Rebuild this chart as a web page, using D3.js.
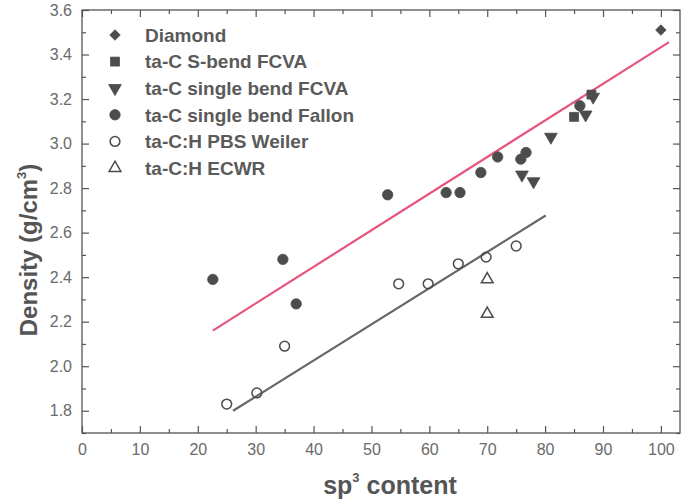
<!DOCTYPE html>
<html>
<head>
<meta charset="utf-8">
<script src="https://cdn.jsdelivr.net/npm/d3@7"></script>
<style>
  body { margin: 0; background: #fff; }
  svg { display: block; font-family: "Liberation Sans", Arial, sans-serif; }
  .tick text { fill: #6a6a6a; font-size: 16px; }
  .tick line { stroke: #555; stroke-width: 1.2; }
</style>
</head>
<body>
<svg id="chart" width="681" height="503"></svg>
<script>
// series values
const diamondX = [100];
const diamondY = [3.51];
const sBendX = [85, 88];
const sBendY = [3.12, 3.22];
const singleFcvaX = [76, 78, 81, 87, 88.3];
const singleFcvaY = [2.86, 2.83, 3.03, 3.13, 3.21];
const fallonX = [22.6, 34.7, 37, 52.8, 62.9, 65.3, 68.9, 71.8, 75.8, 76.7, 86];
const fallonY = [2.39, 2.48, 2.28, 2.77, 2.78, 2.78, 2.87, 2.94, 2.93, 2.96, 3.17];
const weilerX = [25, 30.2, 35, 54.7, 59.8, 65, 69.8, 75];
const weilerY = [1.83, 1.88, 2.09, 2.37, 2.37, 2.46, 2.49, 2.54];
const ecwrX = [70, 70];
const ecwrY = [2.39, 2.235];

// fitted lines (end points)
const fitTaCX = [22.6, 101.4];
const fitTaCY = [2.16, 3.456];
const fitTaCHX = [26.1, 80.1];
const fitTaCHY = [1.80, 2.677];

const xTicks = [0, 10, 20, 30, 40, 50, 60, 70, 80, 90, 100];
const yTicks = [1.8, 2.0, 2.2, 2.4, 2.6, 2.8, 3.0, 3.2, 3.4, 3.6];

const seriesNames = ["Diamond", "ta-C S-bend FCVA", "ta-C single bend FCVA",
  "ta-C single bend Fallon", "ta-C:H PBS Weiler", "ta-C:H ECWR"];

const zip = (xs, ys) => xs.map((x, i) => [x, ys[i]]);

const series = [
  { name: seriesNames[0], pts: zip(diamondX, diamondY), type: d3.symbolSquare, size: 55, fill: true, rot: 45 },
  { name: seriesNames[1], pts: zip(sBendX, sBendY), type: d3.symbolSquare, size: 80, fill: true, rot: 0 },
  { name: seriesNames[2], pts: zip(singleFcvaX, singleFcvaY), type: d3.symbolTriangle, size: 70, fill: true, rot: 180 },
  { name: seriesNames[3], pts: zip(fallonX, fallonY), type: d3.symbolCircle, size: 85, fill: true, rot: 0 },
  { name: seriesNames[4], pts: zip(weilerX, weilerY), type: d3.symbolCircle, size: 75, fill: false, rot: 0 },
  { name: seriesNames[5], pts: zip(ecwrX, ecwrY), type: d3.symbolTriangle, size: 60, fill: false, rot: 0 }
];

const svg = d3.select('#chart');
const pLeft = 82, pRight = 680, pTop = 10, pBottom = 433;
const x = d3.scaleLinear().domain([0, 103.3]).range([pLeft, pRight]);
const y = d3.scaleLinear().domain([1.7, 3.6]).range([pBottom, pTop]);

const ink = '#4c4c4c';

// minor ticks
const xMinor = d3.range(5, 103, 10);
const yMinor = d3.range(1.7, 3.6, 0.2).map(v => +v.toFixed(1));

svg.append('g').attr('transform', `translate(0,${pBottom})`)
  .call(d3.axisBottom(x).tickValues(xTicks).tickSize(-7).tickPadding(11).tickFormat(d3.format('d')));
svg.append('g').attr('transform', `translate(0,${pBottom})`)
  .call(d3.axisBottom(x).tickValues(xMinor).tickSize(-4).tickFormat(''));
svg.append('g').attr('transform', `translate(0,${pTop})`)
  .call(d3.axisTop(x).tickValues(xTicks).tickSize(-7).tickFormat(''));
svg.append('g').attr('transform', `translate(0,${pTop})`)
  .call(d3.axisTop(x).tickValues(xMinor).tickSize(-4).tickFormat(''));

svg.append('g').attr('transform', `translate(${pLeft},0)`)
  .call(d3.axisLeft(y).tickValues(yTicks).tickSize(-7).tickPadding(10).tickFormat(d3.format('.1f')));
svg.append('g').attr('transform', `translate(${pLeft},0)`)
  .call(d3.axisLeft(y).tickValues(yMinor).tickSize(-4).tickFormat(''));
svg.append('g').attr('transform', `translate(${pRight},0)`)
  .call(d3.axisRight(y).tickValues(yTicks).tickSize(-7).tickFormat(''));
svg.append('g').attr('transform', `translate(${pRight},0)`)
  .call(d3.axisRight(y).tickValues(yMinor).tickSize(-4).tickFormat(''));

svg.selectAll('.domain').remove();

svg.append('rect')
  .attr('x', pLeft).attr('y', pTop)
  .attr('width', pRight - pLeft).attr('height', pBottom - pTop)
  .attr('fill', 'none').attr('stroke', '#555').attr('stroke-width', 1.3);

// fit lines
const line = d3.line().x(d => x(d[0])).y(d => y(d[1]));
svg.append('path').datum(zip(fitTaCX, fitTaCY))
  .attr('d', line).attr('stroke', '#e8557c').attr('stroke-width', 2.2).attr('fill', 'none');
svg.append('path').datum(zip(fitTaCHX, fitTaCHY))
  .attr('d', line).attr('stroke', '#666').attr('stroke-width', 2.2).attr('fill', 'none');

// points
series.forEach(s => {
  const sym = d3.symbol().type(s.type).size(s.size);
  svg.append('g').selectAll('path').data(s.pts).enter().append('path')
    .attr('d', sym)
    .attr('transform', d => `translate(${x(d[0])},${y(d[1])}) rotate(${s.rot})`)
    .attr('fill', s.fill ? ink : 'none')
    .attr('stroke', ink)
    .attr('stroke-width', s.fill ? 0.8 : 1.5);
});

// legend
const legend = svg.append('g');
series.forEach((s, i) => {
  const ly = 35 + i * 26.6;
  const sym = d3.symbol().type(s.type).size(s.size);
  legend.append('path')
    .attr('d', sym)
    .attr('transform', `translate(115,${ly}) rotate(${s.rot})`)
    .attr('fill', s.fill ? ink : 'none')
    .attr('stroke', ink)
    .attr('stroke-width', s.fill ? 0.8 : 1.5);
  legend.append('text')
    .attr('x', 145).attr('y', ly).attr('dy', '0.36em')
    .attr('font-size', 19).attr('font-weight', 'bold').attr('fill', '#5a5a5a')
    .text(s.name);
});

// axis titles
const xt = svg.append('text')
  .attr('x', 390).attr('y', 494).attr('text-anchor', 'middle')
  .attr('font-size', 25).attr('font-weight', 'bold').attr('fill', '#555');
xt.append('tspan').text('sp');
xt.append('tspan').attr('font-size', 13).attr('dy', -12).text('3');
xt.append('tspan').attr('dy', 12).text(' content');

const yt = svg.append('text')
  .attr('transform', `translate(37,250) rotate(-90)`)
  .attr('text-anchor', 'middle')
  .attr('font-size', 24).attr('font-weight', 'bold').attr('fill', '#555');
yt.append('tspan').text('Density (g/cm');
yt.append('tspan').attr('font-size', 13).attr('dy', -11).text('3');
yt.append('tspan').attr('dy', 11).text(')');
</script>
</body>
</html>
